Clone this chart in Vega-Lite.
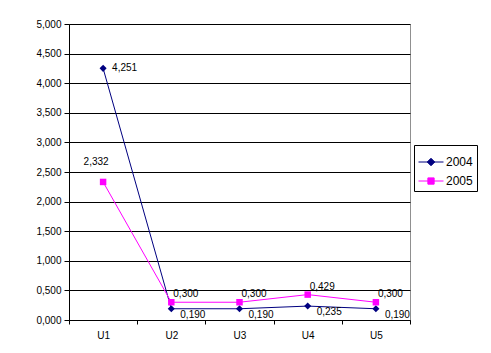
{
  "$schema": "https://vega.github.io/schema/vega-lite/v6.json",
  "autosize": "none",
  "width": 341,
  "height": 296,
  "padding": {"left": 69, "top": 24, "right": 81, "bottom": 33},
  "background": "white",
  "config": {
    "locale": {"number": {"decimal": ",", "thousands": ".", "grouping": [3], "currency": ["", ""]}},
    "font": "Liberation Sans",
    "view": {"stroke": "#909090", "strokeWidth": 1},
    "axis": {"labelFont": "Liberation Sans", "labelColor": "black", "domainColor": "black", "tickColor": "black", "titleFont": "Liberation Sans"}
  },
  "data": {
    "values": [
      {"cat": "U1", "year": "2004", "value": 4.251},
      {"cat": "U2", "year": "2004", "value": 0.190},
      {"cat": "U3", "year": "2004", "value": 0.190},
      {"cat": "U4", "year": "2004", "value": 0.235},
      {"cat": "U5", "year": "2004", "value": 0.190},
      {"cat": "U1", "year": "2005", "value": 2.332},
      {"cat": "U2", "year": "2005", "value": 0.300},
      {"cat": "U3", "year": "2005", "value": 0.300},
      {"cat": "U4", "year": "2005", "value": 0.429},
      {"cat": "U5", "year": "2005", "value": 0.300}
    ]
  },
  "encoding": {
    "x": {
      "field": "cat", "type": "nominal", "title": null,
      "scale": {"paddingInner": 0, "paddingOuter": 0},
      "axis": {"labelAngle": 0, "labelFontSize": 10, "tickBand": "extent", "tickSize": 4, "labelPadding": 6, "domain": true, "grid": false}
    },
    "y": {
      "field": "value", "type": "quantitative", "title": null,
      "scale": {"domain": [0, 5]},
      "axis": {"values": [0, 0.5, 1, 1.5, 2, 2.5, 3, 3.5, 4, 4.5, 5], "format": ".3f", "labelFontSize": 10, "tickSize": 5, "labelPadding": 3, "gridColor": "black", "gridOpacity": 1, "gridWidth": 1}
    }
  },
  "layer": [
    {
      "mark": {"type": "line", "strokeWidth": 1},
      "encoding": {
        "color": {
          "field": "year", "type": "nominal",
          "scale": {"domain": ["2004", "2005"], "range": ["#000080", "#FF00FF"]},
          "legend": {
            "title": null,
            "orient": "none",
            "legendX": 345,
            "legendY": 121,
            "direction": "vertical",
            "strokeColor": "black",
            "fillColor": "white",
            "padding": 4,
            "labelFont": "Liberation Sans",
            "labelFontSize": 12,
            "labelColor": "black",
            "labelOffset": 2,
            "rowPadding": -3,
            "symbolSize": 625,
            "symbolStrokeWidth": 1,
            "encode": {
              "symbols": {
                "update": {
                  "shape": {"signal": "datum.value === '2004' ? 'M-1,0H1M0,-0.3L0.3,0L0,0.3L-0.3,0Z' : 'M-1,0H1M-0.25,-0.25H0.25V0.25H-0.25Z'"},
                  "fill": {"signal": "datum.value === '2004' ? '#000080' : '#FF00FF'"},
                  "stroke": {"signal": "datum.value === '2004' ? '#000080' : '#FF00FF'"},
                  "opacity": {"value": 1},
                  "fillOpacity": {"value": 1}
                }
              }
            }
          }
        }
      }
    },
    {
      "transform": [{"filter": "datum.year === '2004'"}],
      "mark": {"type": "point", "filled": true, "size": 50, "opacity": 1, "shape": "diamond"},
      "encoding": {"color": {"field": "year", "type": "nominal", "legend": null}}
    },
    {
      "transform": [{"filter": "datum.year === '2005'"}],
      "mark": {"type": "point", "filled": true, "size": 42, "opacity": 1, "shape": "square"},
      "encoding": {"color": {"field": "year", "type": "nominal", "legend": null}}
    },
    {
      "transform": [{"filter": "datum.year === '2004' && datum.cat === 'U1'"}],
      "mark": {"type": "text", "align": "left", "baseline": "middle", "dx": 9, "dy": 0, "fontSize": 10, "color": "black"},
      "encoding": {"text": {"field": "value", "type": "quantitative", "format": ".3f"}}
    },
    {
      "transform": [{"filter": "datum.year === '2004' && datum.cat !== 'U1'"}],
      "mark": {"type": "text", "align": "left", "baseline": "middle", "dx": 9, "dy": 6, "fontSize": 10, "color": "black"},
      "encoding": {"text": {"field": "value", "type": "quantitative", "format": ".3f"}}
    },
    {
      "transform": [{"filter": "datum.year === '2005' && datum.cat === 'U1'"}],
      "mark": {"type": "text", "align": "center", "baseline": "middle", "dx": -7, "dy": -20, "fontSize": 10, "color": "black"},
      "encoding": {"text": {"field": "value", "type": "quantitative", "format": ".3f"}}
    },
    {
      "transform": [{"filter": "datum.year === '2005' && datum.cat !== 'U1'"}],
      "mark": {"type": "text", "align": "left", "baseline": "middle", "dx": 2, "dy": -8, "fontSize": 10, "color": "black"},
      "encoding": {"text": {"field": "value", "type": "quantitative", "format": ".3f"}}
    }
  ]
}
